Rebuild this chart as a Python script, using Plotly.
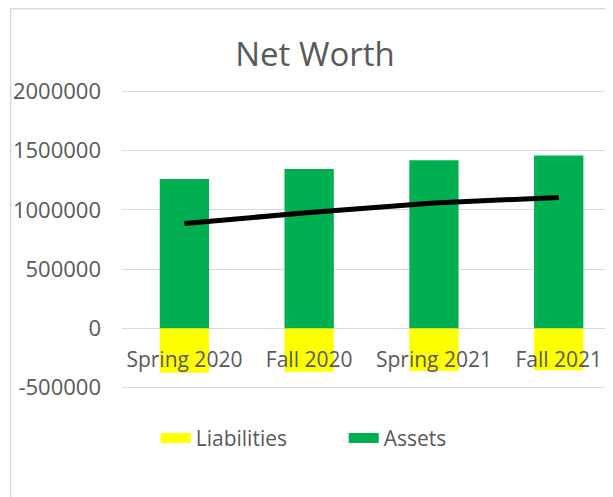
import plotly.graph_objects as go

categories = ["Spring 2020", "Fall 2020", "Spring 2021", "Fall 2021"]
assets = [1260000, 1345000, 1420000, 1460000]
liabilities = [-375000, -367000, -361000, -355000]
net_worth = [885000, 978000, 1059000, 1105000]
y_ticks = [-500000, 0, 500000, 1000000, 1500000, 2000000]
y_tick_labels = ["-500000", "0", "500000", "1000000", "1500000", "2000000"]

YELLOW = "#FFFF00"
GREEN = "#00B050"
TXT = "#595959"
GRID = "#D9D9D9"
FONT = "Open Sans"

OFF = 8  # page body margin
W, H = 613 - OFF, 497 - OFF
EXT = 1.5  # px of extra range so edge gridlines are drawn
L = 122.3 - OFF
T = 91.7 - OFF - EXT
PB = 387.3 - OFF + EXT
plot_w = W - L
plot_h = PB - T
val_per_px = 2500000 / (295.6)
y_lo = -500000 - EXT * val_per_px
y_hi = 2000000 + EXT * val_per_px

px_per_cat = 124.7
x_right = -0.5 + plot_w / px_per_cat

fig = go.Figure()
fig.add_trace(go.Bar(x=categories, y=liabilities, name="Liabilities",
                     marker=dict(color=YELLOW, line=dict(width=0)), showlegend=False))
fig.add_trace(go.Bar(x=categories, y=assets, name="Assets",
                     marker=dict(color=GREEN, line=dict(width=0)), showlegend=False))
fig.add_trace(go.Scatter(x=categories, y=net_worth, mode="lines", name="Net Worth",
                         line=dict(color="black", width=5), showlegend=False))
# legend entries
fig.add_trace(go.Scatter(x=[None], y=[None], mode="lines", name="Liabilities",
                         line=dict(color=YELLOW, width=13)))
fig.add_trace(go.Scatter(x=[None], y=[None], mode="lines", name="Assets",
                         line=dict(color=GREEN, width=13)))

fig.update_layout(
    width=W, height=H,
    margin=dict(l=L, r=0, t=T, b=H - PB, pad=0),
    paper_bgcolor="white", plot_bgcolor="white",
    barmode="relative", bargap=0.605,
    font=dict(family=FONT, size=21, color=TXT),
    title=dict(text="Net Worth", x=(315 - OFF) / W, xref="container", xanchor="center",
               y=1 - (54 - OFF) / H, yref="container", yanchor="middle",
               font=dict(family=FONT, size=33, color=TXT)),
    xaxis=dict(range=[-0.5, x_right], anchor="free", position=(0 - y_lo) / (y_hi - y_lo),
               showgrid=False, showline=False, zeroline=False,
               ticks="", ticklabelstandoff=17,
               tickfont=dict(family=FONT, size=21, color=TXT)),
    yaxis=dict(range=[y_lo, y_hi], tickvals=y_ticks, ticktext=y_tick_labels,
               showgrid=True, gridcolor=GRID, gridwidth=1.3,
               zeroline=True, zerolinecolor=GRID, zerolinewidth=1.3,
               showline=False, ticks="", ticklabelstandoff=20,
               tickfont=dict(family=FONT, size=22, color=TXT)),
    legend=dict(orientation="h", x=(156 - OFF - L) / plot_w, xanchor="left",
                y=(PB - (438 - OFF)) / plot_h, yanchor="middle",
                entrywidth=143, entrywidthmode="pixels",
                font=dict(family=FONT, size=21, color=TXT),
                bgcolor="rgba(0,0,0,0)"),
    shapes=[dict(type="rect", xref="paper", yref="paper",
                 x0=(11 - OFF - L) / plot_w, x1=1.2,
                 y0=-0.6, y1=(PB - (9 - OFF)) / plot_h,
                 line=dict(color=GRID, width=1.5), fillcolor="rgba(0,0,0,0)",
                 layer="below")],
)

fig.write_html("out.html")
